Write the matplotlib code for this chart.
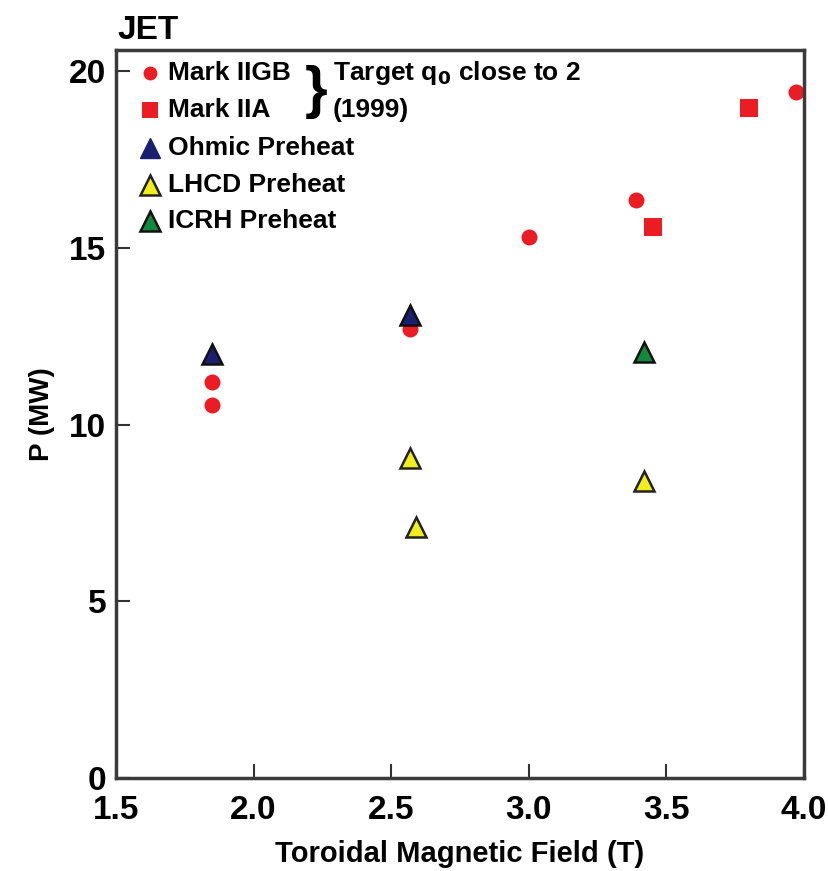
import matplotlib
matplotlib.use("Agg")
import matplotlib.pyplot as plt
from matplotlib import font_manager

# JET power threshold vs toroidal field
mk2gb_b = [1.85, 1.85, 2.57, 3.0, 3.39, 3.97]
mk2gb_p = [11.2, 10.55, 12.7, 15.3, 16.35, 19.4]
mk2a_b = [3.45, 3.80]
mk2a_p = [15.6, 18.95]
ohmic_b = [1.85, 2.57]
ohmic_p = [12.0, 13.1]
lhcd_b = [2.57, 2.59, 3.42]
lhcd_p = [9.05, 7.1, 8.4]
icrh_b = [3.42]
icrh_p = [12.05]

names = [f.name for f in font_manager.fontManager.ttflist]
fam = ["Liberation Sans Narrow", "DejaVu Sans"] if "Liberation Sans Narrow" in names else ["Liberation Sans", "DejaVu Sans"]
plt.rcParams["font.family"] = fam
plt.rcParams["font.weight"] = "bold"

fig = plt.figure(figsize=(8.29, 8.71), dpi=100)
ax = fig.add_axes([116 / 829, 1 - 778 / 871, (804 - 116) / 829, (778 - 50) / 871])

red = "#ec1c24"
ax.plot(mk2gb_b, mk2gb_p, "o", color=red, ms=11.5, mew=0)
ax.plot(mk2a_b, mk2a_p, "s", color=red, ms=12.5, mew=0)
ax.plot(ohmic_b, ohmic_p, "^", mfc="#1b1f70", mec="#111111", ms=15, mew=1.8)
ax.plot(lhcd_b, lhcd_p, "^", mfc="#f2ee1c", mec="#222222", ms=15, mew=1.8)
ax.plot(icrh_b, icrh_p, "^", mfc="#128a3e", mec="#111111", ms=15, mew=1.8)

ax.set_xlim(1.5, 4.0)
ax.set_ylim(0, 20.6)
ax.set_xticks([1.5, 2.0, 2.5, 3.0, 3.5, 4.0])
ax.set_xticklabels(["1.5", "2.0", "2.5", "3.0", "3.5", "4.0"])
ax.set_yticks([0, 5, 10, 15, 20])
ax.tick_params(direction="in", length=10, width=1.5, labelsize=24, pad=7, color="#333333")
ax.tick_params(axis="x", pad=12)
for s in ax.spines.values():
    s.set_linewidth(2.5)
    s.set_color("#3a3a3a")

ax.set_xlabel("Toroidal Magnetic Field (T)", fontsize=21, fontweight="bold", labelpad=10)
ax.set_ylabel("P (MW)", fontsize=20, fontweight="bold", labelpad=10)
fig.text(117 / 829, 1 - 39 / 871, "JET", fontsize=24, fontweight="bold", va="baseline", ha="left")

# legend drawn by hand so the brace can sit next to it
leg_x, txt_x = 150, 168
rows = [(73, "o", dict(color=red, ms=10, mew=0), "Mark IIGB"),
        (110, "s", dict(color=red, ms=11, mew=0), "Mark IIA"),
        (148, "^", dict(mfc="#1b1f70", mec="#1b1f70", ms=14, mew=1), "Ohmic Preheat"),
        (185, "^", dict(mfc="#f2ee1c", mec="#222222", ms=14, mew=1.8), "LHCD Preheat"),
        (221, "^", dict(mfc="#128a3e", mec="#111111", ms=14, mew=1.8), "ICRH Preheat")]
for py, m, kw, label in rows:
    fig.lines.append(plt.Line2D([leg_x / 829], [1 - py / 871], marker=m, ls="none",
                                transform=fig.transFigure, **kw))
    fig.text(txt_x / 829, 1 - py / 871, label, fontsize=19, fontweight="bold", va="center", ha="left")

fig.text(316 / 829, 1 - 92 / 871, "}", fontsize=42, fontweight="bold", va="center", ha="center")
fig.text(333 / 829, 1 - 73 / 871, "Target q$_\\mathbf{0}$ close to 2", fontsize=19, fontweight="bold",
         va="center", ha="left")
fig.text(333 / 829, 1 - 110 / 871, "(1999)", fontsize=19, fontweight="bold", va="center", ha="left")

fig.savefig("out.png", dpi=100)
